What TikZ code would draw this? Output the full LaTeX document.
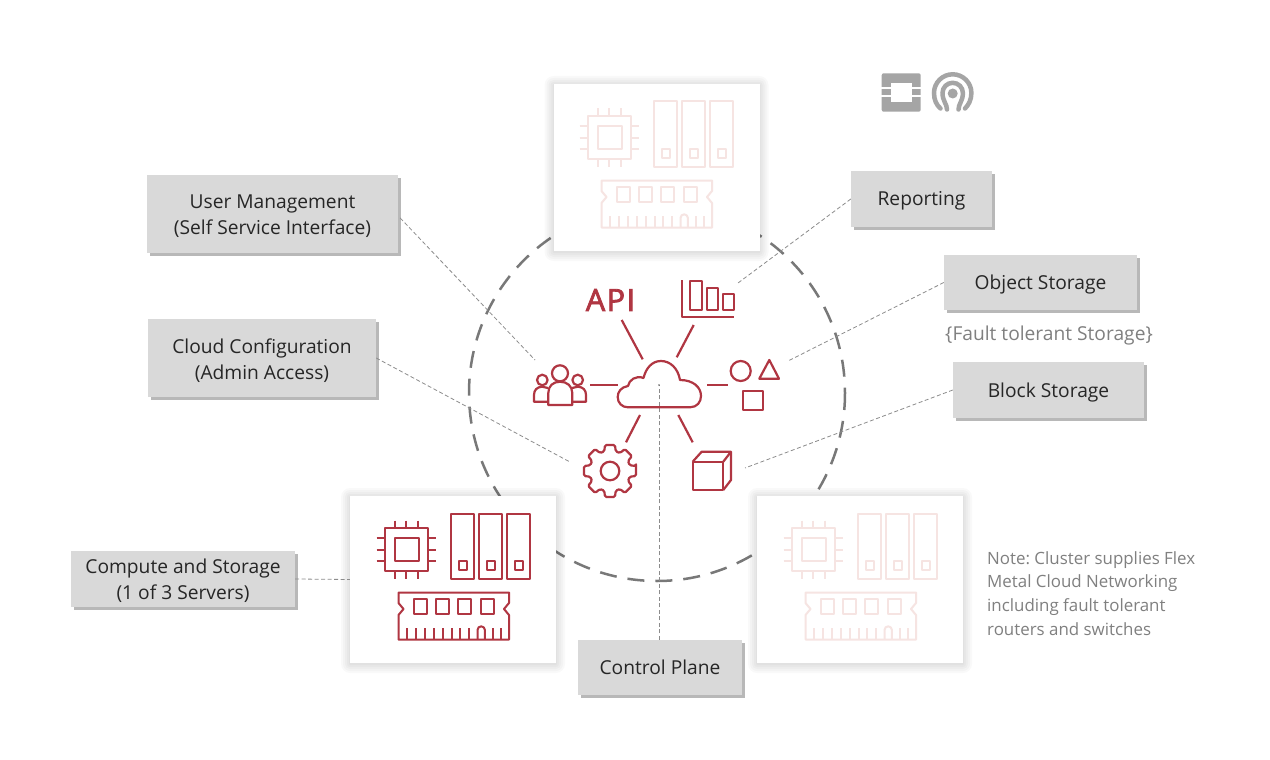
\documentclass[tikz,border=0pt]{standalone}
\usepackage{fontspec}
\setmainfont{Open Sans}
\newfontfamily\apifont[FakeBold=2.6,LetterSpace=5]{Open Sans}
\usetikzlibrary{shadows}
\frenchspacing
\definecolor{cloudred}{RGB}{176,54,66}
\definecolor{fadedred}{RGB}{246,228,226}
\definecolor{boxgray}{RGB}{217,217,217}
\definecolor{ringgray}{RGB}{120,120,120}
\definecolor{notegray}{RGB}{128,128,128}
\definecolor{logogray}{RGB}{165,165,165}
\tikzset{
  infobox/.style={fill=boxgray, inner sep=0pt,
    drop shadow={shadow xshift=2.5pt, shadow yshift=-2.5pt, fill=black, opacity=.28}},
  boxtext/.style={align=center, font=\fontsize{19.2}{26}\selectfont, text=black!85, inner sep=0pt, yshift=-2.2pt},
  panel/.style={fill=white, minimum width=206, minimum height=167, inner sep=0pt},
  leader/.style={draw=black!45, line width=.8pt, dash pattern=on 4pt off 2.5pt},
  spoke/.style={draw=cloudred, line width=2.2pt},
  icon/.style={draw=cloudred, line width=2.2pt, line join=round},
  pics/softshadow/.style={code={
    \foreach \s in {9,7,5,3,1}
      \fill[black, opacity=.022, rounded corners=\s pt] (-\s,-\s+1) rectangle (206+\s,167+\s+1);
  }},
  pics/serverpic/.style={code={
    \begin{scope}[draw=#1, line width=2pt, line join=round]
    \draw (35,32) rectangle (78,75);
    \draw (44.5,41.5) rectangle (68.5,65);
    \foreach \p in {45,56,67.5} {
      \draw (\p,24.5) -- (\p,32);
      \draw (\p,75) -- (\p,82.5);
    }
    \foreach \p in {42,54,65} {
      \draw (26.5,\p) -- (35,\p);
      \draw (78,\p) -- (85.5,\p);
    }
    \foreach \p in {101,129,157} {
      \draw (\p,17.5) rectangle +(23,65.5);
      \draw (\p+7.5,64.5) rectangle +(8,9.5);
    }
    \draw (48.5,96.5) -- (159,96.5) -- (159,107) -- (154,113) -- (159,119) -- (159,143.5)
      -- (48.5,143.5) -- (48.5,119) -- (53.5,113) -- (48.5,107) -- cycle;
    \foreach \p in {63.5,85.5,107.5,130.5} \draw (\p,103) rectangle +(13.5,14.5);
    \foreach \p in {57,65.5,74.5,84,92.5,101.5,110,119,143,151} \draw (\p,143.5) -- (\p,131.5);
    \draw (127.5,143.5) -- (127.5,134) arc[start angle=180, end angle=360, radius=3.7] -- (134.9,143.5);
    \end{scope}
  }},
}
\begin{document}
\begin{tikzpicture}[x=1pt, y=-1pt]
\useasboundingbox (0,0) rectangle (1270,760);
\fill[white] (0,0) rectangle (1270,760);
\draw[ringgray, line width=2.5pt, dash pattern=on 17pt off 11pt] (657,393) circle[radius=188];

% hub and free ends
\coordinate (hub) at (659,385);
\coordinate (usersend) at (535,360);
\coordinate (gearend) at (570,462);
\coordinate (chartend) at (738,283);
\coordinate (shapesend) at (788,361);
\coordinate (cubeend) at (745,468);

\path (272.5,214) node[infobox, minimum width=251, minimum height=78, label={[boxtext]center:User Management\\(Self Service Interface)}] (usermgmt) {};
\path (262,358) node[infobox, minimum width=228, minimum height=78, label={[boxtext]center:Cloud Configuration\\(Admin Access)}] (cloudconf) {};
\path (183,579) node[infobox, minimum width=224, minimum height=56, label={[boxtext]center:Compute and Storage\\(1 of 3 Servers)}] (compute) {};
\path (660,667.5) node[infobox, minimum width=164, minimum height=55, label={[boxtext, yshift=2.2pt]center:Control Plane}] (control) {};
\path (921.5,199) node[infobox, minimum width=141, minimum height=56, label={[boxtext]center:Reporting}] (reporting) {};
\path (1040.5,282.5) node[infobox, minimum width=193, minimum height=55, label={[boxtext]center:Object Storage}] (objectst) {};
\path (1048.5,390) node[infobox, minimum width=191, minimum height=56, label={[boxtext]center:Block Storage}] (blockst) {};

\pic at (553.5,84) {softshadow};
\pic at (350,496) {softshadow};
\pic at (757,496) {softshadow};
\path (656.5,167.5) node[panel] (paneltop) {};
\path (453,579.5) node[panel] (panelleft) {};
\path (860,579.5) node[panel] (panelright) {};
\pic at (553,84) {serverpic=fadedred};
\pic at (350,496) {serverpic=cloudred};
\pic at (757,496) {serverpic=fadedred};

\draw[leader] (usermgmt.east) ++(2,4) -- (usersend);
\draw[leader] (cloudconf.east) -- (gearend);
\draw[leader] (reporting.west) -- (chartend);
\draw[leader] (objectst.west) -- (shapesend);
\draw[leader] (blockst.west) -- (cubeend);
\draw[leader] (compute.east) -- (panelleft.west);
\draw[leader] (control.north) ++(-1,0) -- (hub);
\fill[black!60] (hub) circle[radius=.8];

% cloud
\draw[icon] (628,407.3) -- (690,407.3) .. controls (697,407.3) and (701,402) .. (701,396)
  .. controls (701,387) and (693,380) .. (680,380) .. controls (678,368) and (670,361) .. (661,361)
  .. controls (652,361) and (646,368) .. (643.5,378) .. controls (636,375) and (629,380) .. (628,386)
  .. controls (621,387) and (617.7,392) .. (617.7,397) .. controls (617.7,403) and (622,407.3) .. (628,407.3) -- cycle;

\path (610.5,300) node[font=\fontsize{30.5}{30}\selectfont\apifont, text=cloudred, inner sep=0pt] (apilabel) {API};

\draw[spoke] (621.7,320) -- (642.7,359.3);
\draw[spoke] (693.7,325) -- (676.7,357.3);
\draw[spoke] (590,384.7) -- (618.3,384.7);
\draw[spoke] (707.3,384.7) -- (728.3,384.7);
\draw[spoke] (640,415) -- (626,442.3);
\draw[spoke] (678.3,415) -- (692.7,442.3);

% chart
\draw[icon] (682.3,280) -- (682.3,317.3) -- (734.3,317.3);
\draw[icon] (690.3,281) rectangle (701.7,310);
\draw[icon] (706.7,287.7) rectangle (717.7,310);
\draw[icon] (722.7,294) rectangle (733.7,310);

% shapes
\draw[icon] (740.7,371) circle[radius=10];
\draw[icon] (769.3,360) -- (759.3,378.7) -- (779,378.7) -- cycle;
\draw[icon] (743.3,390.7) rectangle (763.3,410);

% cube
\draw[icon] (692.7,461.7) rectangle (723.3,490);
\draw[icon] (692.7,461.7) -- (701.7,451.7) -- (731,451.7) -- (731,480) -- (723.3,490);
\draw[icon] (723.3,461.7) -- (731,451.7);

% gear
\begin{scope}[shift={(610,471)}]
\draw[icon] (0,0) circle[radius=9.3];
\draw[icon, rounded corners=1.5pt] (-11:26.5)
  \foreach \a in {0,45,...,315} {
    -- (\a-11:26.5) -- (\a+11:26.5) -- (\a+16:20.5) -- (\a+29:20.5)
  } -- cycle;
\end{scope}

% people
\draw[icon] (560,373.3) circle[radius=8];
\draw[icon] (542.3,380) circle[radius=5.3];
\draw[icon] (577.7,380) circle[radius=5.3];
\draw[icon] (548.3,405) -- (548.3,393) .. controls (548.3,386) and (553,381.7) .. (560,381.7)
  .. controls (567,381.7) and (572.3,386) .. (572.3,393) -- (572.3,405) -- cycle;
\draw[icon] (548.3,401.7) -- (534,401.7) -- (534,395) .. controls (534,390) and (537,387) .. (542,386.7) -- (548,388);
\draw[icon] (572.3,401.7) -- (586,401.7) -- (586,395) .. controls (586,390) and (583,387) .. (578,386.7) -- (572,388);

\path (1049,336) node[font=\fontsize{19.2}{24}\selectfont, text=notegray, inner sep=0pt] (faultnote) {\{Fault tolerant Storage\}};
\path (987,593.3) node[anchor=west, align=left, font=\fontsize{16.9}{23.7}\selectfont, text=notegray, inner sep=0pt] (netnote) {Note: Cluster supplies Flex\\Metal Cloud Networking\\including fault tolerant\\routers and switches};

% logos
\fill[logogray, rounded corners=2pt] (881.7,73.3) rectangle (920.7,111.7);
\fill[white] (890.7,83.3) rectangle (911.7,101.7);
\fill[white] (881,87.5) rectangle (891,89.5);
\fill[white] (911,87.5) rectangle (921,89.5);
\fill[white] (881,95.5) rectangle (891,97.5);
\fill[white] (911,95.5) rectangle (921,97.5);
\fill[logogray] (952.7,93.5) circle[radius=5];
\draw[logogray, line width=4.5pt, line cap=round] (947,109.5) .. controls (947,104) and (942.5,101) .. (942.5,93) arc[start angle=180, end angle=360, radius=10.2] .. controls (962.9,101) and (958.5,104) .. (958.5,109.5);
\draw[logogray, line width=4.5pt, line cap=round] (940.5,108.5) .. controls (936.5,105) and (934,100) .. (934,93) arc[start angle=180, end angle=360, radius=18.7] .. controls (971.4,100) and (968.5,105) .. (965,108.5);
\end{tikzpicture}
\end{document}
